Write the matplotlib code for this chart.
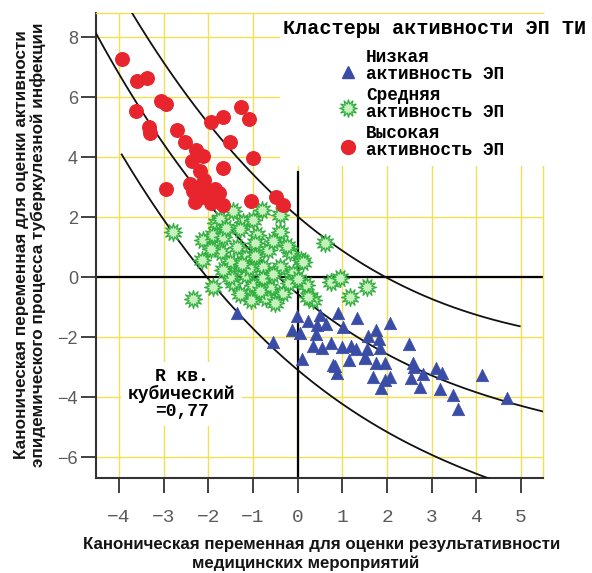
import matplotlib
matplotlib.use("Agg")
import matplotlib.pyplot as plt
import numpy as np
from matplotlib.lines import Line2D

W, H = 592, 573

# кластер: высокая активность ЭП
high_x = [-3.94, -3.59, -3.38, -3.07, -2.95, -3.61, -3.33, -3.30, -2.70, -2.53, -2.27, -2.12,
          -2.36, -1.93, -1.68, -1.28, -1.09, -1.52, -1.01, -1.67, -2.19, -2.10, -2.95, -2.34,
          -2.01, -1.76, -2.30, -1.93, -1.67, -1.04, -0.48, -0.33, -2.20, -2.15, -1.85, -2.40]
high_y = [7.27, 6.53, 6.64, 5.87, 5.76, 5.53, 5.01, 4.81, 4.90, 4.49, 4.23, 4.04,
          3.86, 5.16, 5.34, 5.68, 5.26, 4.49, 3.98, 3.62, 3.55, 3.23, 2.92, 2.87,
          2.79, 2.79, 2.51, 2.46, 2.40, 2.54, 2.68, 2.40, 2.62, 3.05, 2.95, 3.10]

# средняя активность ЭП
mid_x = [-2.80, -2.34, -2.12, -2.15, -1.89, -1.71, -1.82, -1.45, -1.52, -1.45, -0.81, -0.40,
         -1.75, -1.22, -0.40, -1.89, -0.92, -1.67, -1.37, -0.96, -0.66, -0.18, 0.08, 0.60,
         -1.52, -1.15, -0.40, -0.78, -0.10, -1.00, -0.63, -0.33, 0.19, 0.75, 0.94, 1.16,
         0.34, -1.04, -0.70, -1.52, -1.15, -0.78, -1.67, 1.54, 0.23, 0.12,
         -1.30, -1.10, -0.55, -0.85, -1.30, -0.20, -1.95, -1.60, -1.00, -0.55, -0.25, -1.25,
         0.00, -0.50, -0.95]
mid_y = [1.51, -0.74, 1.23, 0.57, -0.32, 0.84, 1.79, 2.20, 0.23, -0.21, 2.23, 2.07,
         1.95, 1.84, 1.51, 1.40, 1.40, 1.34, 1.01, 1.12, 0.90, 0.84, 0.57, 1.15,
         0.51, 0.68, 0.34, 0.34, 0.12, -0.27, -0.38, -0.54, -0.27, -0.16, -0.04, -0.66,
         -0.77, -0.77, -0.71, 0.01, 0.07, -0.04, 0.23, -0.32, -0.66, 0.51,
         1.60, 0.30, 0.10, -0.45, -0.55, -0.20, 0.95, 1.65, 1.90, 1.20, 1.05, 0.45,
         -0.05, -0.85, 0.70]

# низкая активность ЭП
low_x = [-1.37, -0.56, -0.01, -0.13, 0.04, 0.23, 0.49, 0.43, 0.63, 0.90, 1.33, 1.01, 0.40,
         0.10, 0.34, 0.55, 0.75, 0.98, 1.20, 1.31, 1.15, 0.83, 0.88, 1.50, 1.54, 1.57,
         1.76, 1.82, 1.85, 2.06, 1.76, 1.95, 1.68, 1.95, 1.87, 2.07, 2.48, 2.58, 2.60,
         2.54, 2.73, 2.80, 3.10, 3.24, 3.19, 3.48, 3.59, 4.12, 4.68, 0.79, 1.50]
low_y = [-1.21, -2.16, -1.30, -1.77, -1.86, -1.46, -1.27, -1.60, -1.57, -1.21, -1.38, -1.66, -1.90,
         -2.74, -2.30, -2.38, -2.19, -2.32, -2.30, -2.41, -2.77, -2.97, -3.21, -2.71, -2.41, -1.97,
         -1.77, -2.08, -2.38, -1.52, -2.86, -2.86, -3.32, -3.43, -3.71, -3.32, -2.24, -2.86, -2.99,
         -3.38, -3.68, -3.23, -3.04, -3.19, -3.74, -3.93, -4.41, -3.27, -4.04, -2.93, -2.66]

# кубическая регрессия и границы интервала (точки на кривых)
fit_x = [-4.52, -3.15, -2.08, -0.78, 0.0, 0.72, 1.99, 4.0, 5.48]
fit_y = [8.23, 4.57, 2.57, 0.57, -0.43, -1.43, -2.6, -3.93, -4.43]
upper_x = [-3.71, -2.04, -1.30, -0.58, 0.0, 1.39, 2.0, 2.95, 4.97]
upper_y = [8.8, 5.23, 3.9, 2.73, 2.0, 0.57, 0.0, -0.77, -1.63]
lower_x = [-3.94, -3.04, -2.04, -1.36, -0.85, 0.0, 1.0, 2.0, 3.0, 3.62, 4.36]
lower_y = [4.1, 2.0, 0.0, -1.2, -2.0, -3.1, -4.0, -5.27, -6.0, -6.37, -6.7]

x_ticks = [-4, -3, -2, -1, 0, 1, 2, 3, 4, 5]
y_ticks = [-6, -4, -2, 0, 2, 4, 6, 8]

mono = "Liberation Mono"
sans = "Liberation Sans"
grid_col = "#f4df52"


def fx(px):
    return px / W


def fy(py):
    return 1 - py / H


fig = plt.figure(figsize=(W / 100, H / 100), dpi=100)
ax = fig.add_axes([fx(96), fy(478), (543 - 96) / W, (478 - 13) / H])
ax.set_xlim(-4.515, 5.49)
ax.set_ylim(-6.7, 8.8)

ax.set_xticks(x_ticks)
ax.set_yticks(y_ticks)
ax.grid(True, color=grid_col, lw=1.0, zorder=0)
ax.set_axisbelow(True)
for s in ["top", "right"]:
    ax.spines[s].set_color(grid_col)
    ax.spines[s].set_linewidth(1.0)
ax.spines["left"].set_color("#333333")
ax.spines["bottom"].set_color("#333333")
ax.spines["left"].set_linewidth(1.5)
ax.spines["bottom"].set_linewidth(1.5)

ax.tick_params(axis="x", direction="out", length=11, width=1.3, pad=11,
               labelsize=14, labelcolor="#5a5a5a", color="#333333")
ax.tick_params(axis="y", direction="out", length=11, width=1.3, pad=2,
               labelsize=13, labelcolor="#5a5a5a", color="#333333")
ax.set_xticklabels([str(t).replace("-", "\u2212") for t in x_ticks], family=mono)
ax.set_yticklabels([str(t).replace("-", "\u2212") for t in y_ticks], family=sans)

# осевые линии
ax.axhline(0, color="black", lw=1.6, zorder=2)
ax.plot([0, 0], [3.5, -6.7], color="black", lw=1.6, zorder=2)

# кривые
for cx, cy, x0, x1 in [(fit_x, fit_y, -4.52, 5.49), (upper_x, upper_y, -4.0, 4.97),
                       (lower_x, lower_y, -3.94, 4.6)]:
    coef = np.polyfit(cx, cy, 3)
    xx = np.linspace(x0, x1, 200)
    ax.plot(xx, np.polyval(coef, xx), color="#111111", lw=1.3, zorder=3)

ax.scatter(low_x, low_y, marker="^", s=80, color="#3a4da6", edgecolors="#3a4da6",
           linewidths=0.5, zorder=4)
ax.scatter(mid_x, mid_y, marker=(12, 1, 0), s=170, facecolor="#c6f1bd",
           edgecolors="#2fae3e", linewidths=0.9, zorder=4)
ax.scatter(high_x, high_y, marker="o", s=95, color="#e8242c", zorder=5)

ax.text(-2.6, -3.9, "R кв.\nкубический\n=0,77", ha="center", va="center",
        family=mono, weight="bold", fontsize=13, linespacing=1.0, zorder=6,
        bbox=dict(boxstyle="square,pad=0.35", fc="white", ec="none"))

# легенда
fig.patches.append(plt.Rectangle((fx(280), fy(166)), fx(592) - fx(280), fy(14) - fy(166),
                                 transform=fig.transFigure, fc="white", ec="none", zorder=5))
fig.text(fx(283), fy(29), "Кластеры активности ЭП ТИ", family=mono, weight="bold",
         fontsize=14.5, va="center", ha="left", zorder=6)
items = [("Низкая\nактивность ЭП", "^", 72, 66, dict(ms=9, color="#3a4da6")),
         ("Средняя\nактивность ЭП", (12, 1, 0), 108, 104,
          dict(ms=13, mfc="#c6f1bd", mec="#2fae3e", mew=0.9)),
         ("Высокая\nактивность ЭП", "o", 147, 142, dict(ms=10, color="#e8242c"))]
for label, mk, my, ty, kw in items:
    fig.add_artist(Line2D([fx(348)], [fy(my)], marker=mk, ls="none",
                          transform=fig.transFigure, zorder=6, **kw))
    fig.text(fx(366), fy(ty), label, family=mono, weight="bold", fontsize=12.8,
             va="center", ha="left", linespacing=1.0, zorder=6)

# подписи осей
fig.text(fx(30), fy(245), "Каноническая переменная для оценки активности\n"
         "эпидемического процесса туберкулезной инфекции", rotation=90,
         ha="center", va="center", family=sans, weight="bold", fontsize=12.3,
         color="#151515", linespacing=1.1)
fig.text(fx(322), fy(544), "Каноническая переменная для оценки результативности",
         ha="center", va="center", family=sans, weight="bold", fontsize=12.2, color="#151515")
fig.text(fx(306), fy(563), "медицинских мероприятий",
         ha="center", va="center", family=sans, weight="bold", fontsize=12.2, color="#151515")

fig.savefig("out.png", dpi=100)
